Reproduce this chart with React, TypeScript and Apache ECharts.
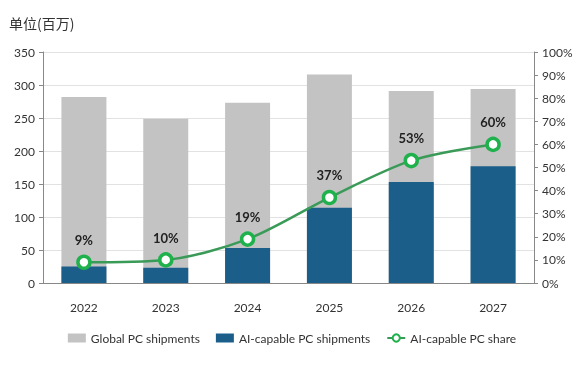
import React, { useEffect, useRef } from "react";
import * as echarts from "echarts";

const years = ["2022", "2023", "2024", "2025", "2026", "2027"];
const globalShipments = [282, 249, 273, 316, 291, 294];
const aiShipments = [25, 23, 53, 114, 153, 177];
const aiShare = [9, 10, 19, 37, 53, 60];

export default function App() {
  const ref = useRef<HTMLDivElement>(null);
  useEffect(() => {
    const chart = echarts.init(ref.current!, null, { renderer: "svg" });
    const font = "Lato, 'Noto Sans', 'Noto Sans CJK SC', sans-serif";
    chart.setOption({
      animation: false,
      textStyle: { fontFamily: font },
      title: {
        text: "单位(百万)",
        left: 4,
        top: 11,
        textStyle: { fontSize: 14, fontWeight: "normal", color: "#333", fontFamily: "'Noto Sans CJK SC', sans-serif" },
      },
      grid: { left: 43, right: 50, top: 52, bottom: 83 },
      legend: {
        bottom: 17,
        left: "center",
        itemWidth: 18,
        itemHeight: 9,
        itemGap: 16,
        textStyle: { fontSize: 12, color: "#333", fontFamily: font },
        data: [
          { name: "Global PC shipments", icon: "rect" },
          { name: "AI-capable PC shipments", icon: "rect" },
          { name: "AI-capable PC share" },
        ],
      },
      xAxis: {
        type: "category",
        data: years,
        axisLine: { lineStyle: { color: "#888" } },
        axisTick: { show: false },
        axisLabel: { color: "#333", fontSize: 12, margin: 18 },
      },
      yAxis: [
        {
          type: "value",
          min: 0,
          max: 350,
          interval: 50,
          axisLine: { show: true, lineStyle: { color: "#888" } },
          axisTick: { show: true, inside: false, length: 4, lineStyle: { color: "#888" } },
          axisLabel: { color: "#333", fontSize: 12, margin: 8 },
          splitLine: { lineStyle: { color: "#e2e2e2" } },
        },
        {
          type: "value",
          min: 0,
          max: 100,
          interval: 10,
          position: "right",
          axisLine: { show: true, lineStyle: { color: "#888" } },
          axisTick: { show: true, length: 4, lineStyle: { color: "#888" } },
          axisLabel: { color: "#333", fontSize: 12, margin: 8, formatter: "{value}%" },
          splitLine: { show: false },
        },
      ],
      series: [
        {
          name: "Global PC shipments",
          type: "bar",
          data: globalShipments,
          barWidth: 45,
          barGap: "-100%",
          itemStyle: { color: "#c3c3c3" },
        },
        {
          name: "AI-capable PC shipments",
          type: "bar",
          data: aiShipments,
          barWidth: 45,
          itemStyle: { color: "#1c5e8a" },
        },
        {
          name: "AI-capable PC share",
          type: "line",
          yAxisIndex: 1,
          data: aiShare,
          smooth: 0.3,
          symbol: "circle",
          symbolSize: 12,
          lineStyle: { color: "#3a9a58", width: 2.5 },
          itemStyle: { color: "#ffffff", borderColor: "#1fb14c", borderWidth: 3.5 },
          label: {
            show: true,
            position: "top",
            distance: 8,
            formatter: "{c}%",
            color: "#222",
            fontSize: 13,
            fontWeight: "bold",
          },
          z: 5,
        },
      ],
    });
    return () => chart.dispose();
  }, []);
  return (
    <div
      ref={ref}
      style={{ position: "fixed", left: 0, top: 0, width: 584, height: 366 }}
    />
  );
}
